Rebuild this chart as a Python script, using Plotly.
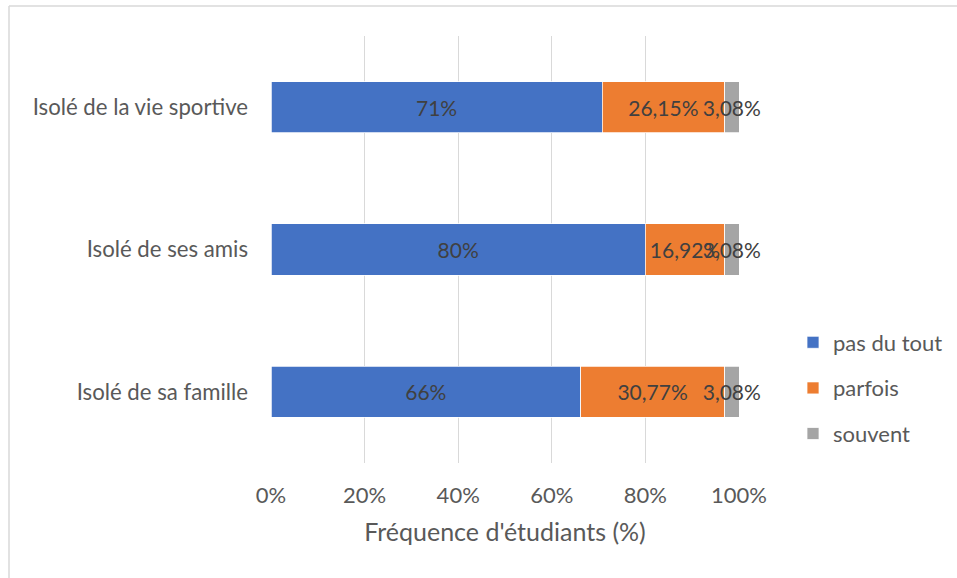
import plotly.graph_objects as go

categories = ["Isolé de la vie sportive", "Isolé de ses amis", "Isolé de sa famille"]
pas_du_tout = [70.77, 80.00, 66.15]
parfois = [26.15, 16.92, 30.77]
souvent = [3.08, 3.08, 3.08]
pas_du_tout_text = ["71%", "80%", "66%"]
parfois_text = ["26,15%", "16,92%", "30,77%"]
souvent_text = ["3,08%", "3,08%", "3,08%"]
tick_vals = [0, 20, 40, 60, 80, 100]
tick_text = ["0%", "20%", "40%", "60%", "80%", "100%"]

FONT = "Lato, Carlito, Calibri, sans-serif"
series = [
    ("pas du tout", pas_du_tout, pas_du_tout_text, "#4472C4"),
    ("parfois", parfois, parfois_text, "#ED7D31"),
    ("souvent", souvent, souvent_text, "#A5A5A5"),
]

fig = go.Figure()
for name, vals, txt, col in series:
    fig.add_trace(go.Bar(
        y=categories, x=vals, name=name, orientation="h",
        marker=dict(color=col, line=dict(color="white", width=0.75)),
        text=txt, textposition="inside", insidetextanchor="middle",
        textangle=0, constraintext="none", cliponaxis=False,
        textfont=dict(family=FONT, size=21, color="#404040"),
        legendgroup=name, hoverinfo="x+name",
    ))

W, H = 957, 578
L, R, T, B = 271, 218, 36, 115
pw, ph = W - L - R, H - T - B

fig.update_layout(
    width=W, height=H,
    margin=dict(l=L, r=R, t=T, b=B, pad=0, autoexpand=False),
    barmode="stack", bargap=0.64,
    plot_bgcolor="white", paper_bgcolor="white",
    font=dict(family=FONT, color="#595959"),
    uniformtext=dict(minsize=21, mode="show"),
    xaxis=dict(
        range=[0, 100], tickvals=tick_vals, ticktext=tick_text,
        showgrid=True, gridcolor="#D9D9D9", gridwidth=1.3,
        zeroline=False, showline=False, ticks="",
        tickfont=dict(family=FONT, size=22, color="#595959"),
        ticklabelstandoff=17, automargin=False,
        title=dict(text="Fréquence d'étudiants (%)", standoff=16,
                   font=dict(family=FONT, size=25, color="#595959")),
        fixedrange=True,
    ),
    yaxis=dict(
        autorange="reversed", showgrid=False, zeroline=False,
        showline=False, ticks="", automargin=False,
        tickfont=dict(family=FONT, size=22.2, color="#595959"),
        ticklabelstandoff=22, fixedrange=True,
    ),
    legend=dict(
        x=(793 - L) / pw, xanchor="left",
        y=(H - B - 388) / ph, yanchor="middle",
        traceorder="grouped", tracegroupgap=14,
        font=dict(family=FONT, size=22, color="#595959"),
        bgcolor="rgba(0,0,0,0)",
    ),
    showlegend=True,
)

# chart area border (top and left edges visible)
bx0 = (9 - L) / pw
by1 = (H - B - 6) / ph
fig.add_shape(type="line", xref="paper", yref="paper",
              x0=bx0, x1=(W + 5 - L) / pw, y0=by1, y1=by1,
              line=dict(color="#D9D9D9", width=1.5))
fig.add_shape(type="line", xref="paper", yref="paper",
              x0=bx0, x1=bx0, y0=by1, y1=(H - B - H - 5) / ph,
              line=dict(color="#D9D9D9", width=1.5))

fig.write_html("out.html")
